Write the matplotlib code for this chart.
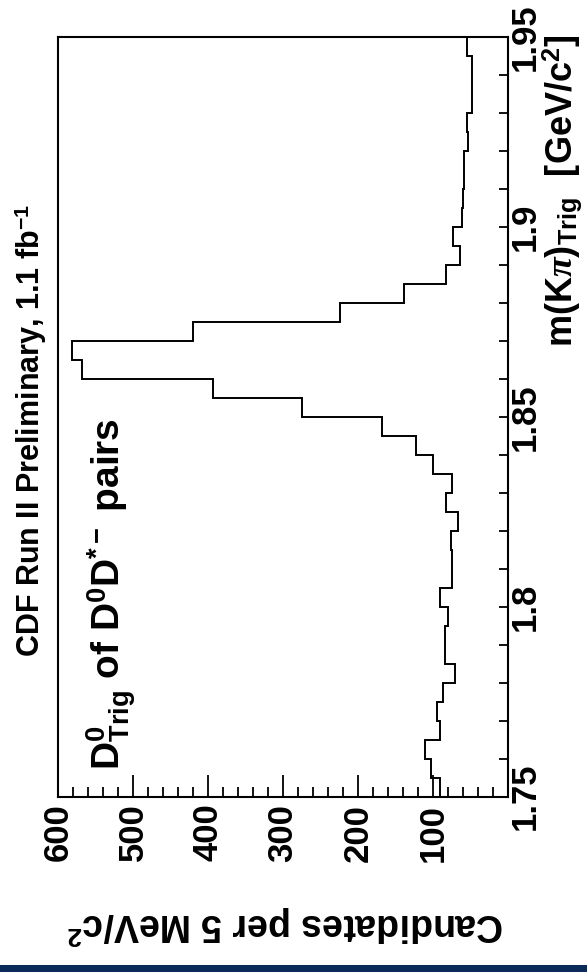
import matplotlib
matplotlib.use("Agg")
import matplotlib.pyplot as plt
import numpy as np
from matplotlib.ticker import MultipleLocator, FixedLocator
from matplotlib.patches import Rectangle

plt.rcParams['font.family'] = ['Liberation Sans', 'DejaVu Sans']
plt.rcParams['font.weight'] = 'bold'
plt.rcParams['mathtext.fontset'] = 'custom'
plt.rcParams['mathtext.rm'] = 'Liberation Sans:bold'
plt.rcParams['mathtext.bf'] = 'Liberation Sans:bold'
plt.rcParams['mathtext.sf'] = 'Liberation Sans:bold'
plt.rcParams['mathtext.it'] = 'Liberation Serif:italic'

# ---- data ----
mass_low = 1.75
bin_width = 0.005
counts = [91, 102, 111, 91, 95, 86, 71, 84, 84, 80,
          91, 74, 74, 76, 66, 82, 75, 100, 122, 168,
          275, 393, 569, 582, 420, 224, 138, 83, 64, 73,
          61, 60, 59, 58, 53, 55, 47, 47, 48, 54]
mass_ticks = [1.75, 1.80, 1.85, 1.90, 1.95]
mass_tick_labels = ["1.75", "1.8", "1.85", "1.9", "1.95"]
count_ticks = [100, 200, 300, 400, 500, 600]
count_tick_labels = ["100", "200", "300", "400", "500", "600"]

edges = mass_low + bin_width * np.arange(len(counts) + 1)

W, H = 587, 972
fig = plt.figure(figsize=(W / 100, H / 100), dpi=100)
ax = fig.add_axes([58.3 / W, 1 - 796.7 / H, (507.7 - 58.3) / W, (796.7 - 36.7) / H])

ax.stairs(counts, edges, orientation='horizontal', baseline=None,
          color='black', linewidth=1.4)

ax.set_ylim(1.75, 1.95)
ax.set_xlim(600, 0)

for s in ax.spines.values():
    s.set_linewidth(1.5)
    s.set_color('black')

# mass axis (vertical, ticks on right)
ax.yaxis.set_ticks_position('right')
ax.yaxis.set_major_locator(FixedLocator(mass_ticks))
ax.yaxis.set_minor_locator(MultipleLocator(0.01))
ax.set_yticklabels(mass_tick_labels)
ax.tick_params(axis='y', which='both', direction='in', left=False, right=True,
               labelleft=False, labelright=True, length=6.5, width=1.3,
               labelsize=25, pad=1)
for lbl in ax.get_yticklabels():
    lbl.set_rotation(90)
    lbl.set_va('center')
    lbl.set_ha('left')
    lbl.set_fontweight('bold')

# count axis (horizontal, ticks on bottom)
ax.xaxis.set_ticks_position('bottom')
ax.xaxis.set_major_locator(FixedLocator(count_ticks))
ax.xaxis.set_minor_locator(MultipleLocator(20))
ax.set_xticklabels(count_tick_labels)
ax.tick_params(axis='x', which='major', direction='in', top=False, bottom=True,
               length=15.8, width=1.3, labelsize=25, pad=5)
ax.tick_params(axis='x', which='minor', direction='in', top=False, bottom=True,
               length=7.2, width=1.3)
for lbl in ax.get_xticklabels():
    lbl.set_rotation(90)
    lbl.set_va('top')
    lbl.set_ha('center')
    lbl.set_fontweight('bold')

# title (left, rotated)
fig.text(31 / W, 1 - 430 / H, "CDF Run II Preliminary, 1.1 fb$^{\\mathrm{-1}}$",
         rotation=90, ha='center', va='center', fontsize=22, fontweight='bold')

# annotation inside the plot
fig.text(120 / W, 1 - 770 / H,
         r"D$^{\mathrm{0}}_{\mathrm{Trig}}$ of D$^{\mathrm{0}}$D$^{\mathrm{*-}}$ pairs",
         rotation=90, rotation_mode='anchor', ha='left', va='baseline',
         fontsize=28, fontweight='bold')

# mass axis title (right)
fig.text(572 / W, 1 - 34 / H,
         r"m(K$\pi$)$_{\mathrm{Trig}}$  [GeV/c$^{\mathrm{2}}$]",
         rotation=90, rotation_mode='anchor', ha='right', va='baseline',
         fontsize=26, fontweight='bold')

# count axis title (bottom, upside down)
fig.text(286 / W, 1 - 925 / H, r"Candidates per 5 MeV/c$^{\mathrm{2}}$",
         rotation=180, ha='center', va='center', fontsize=27, fontweight='bold')

# navy strip at bottom
fig.add_artist(Rectangle((0, 0), 1, 7 / H, transform=fig.transFigure,
                         color='#0b2c5a', lw=0))

fig.savefig("out.png", dpi=100, facecolor='white')
